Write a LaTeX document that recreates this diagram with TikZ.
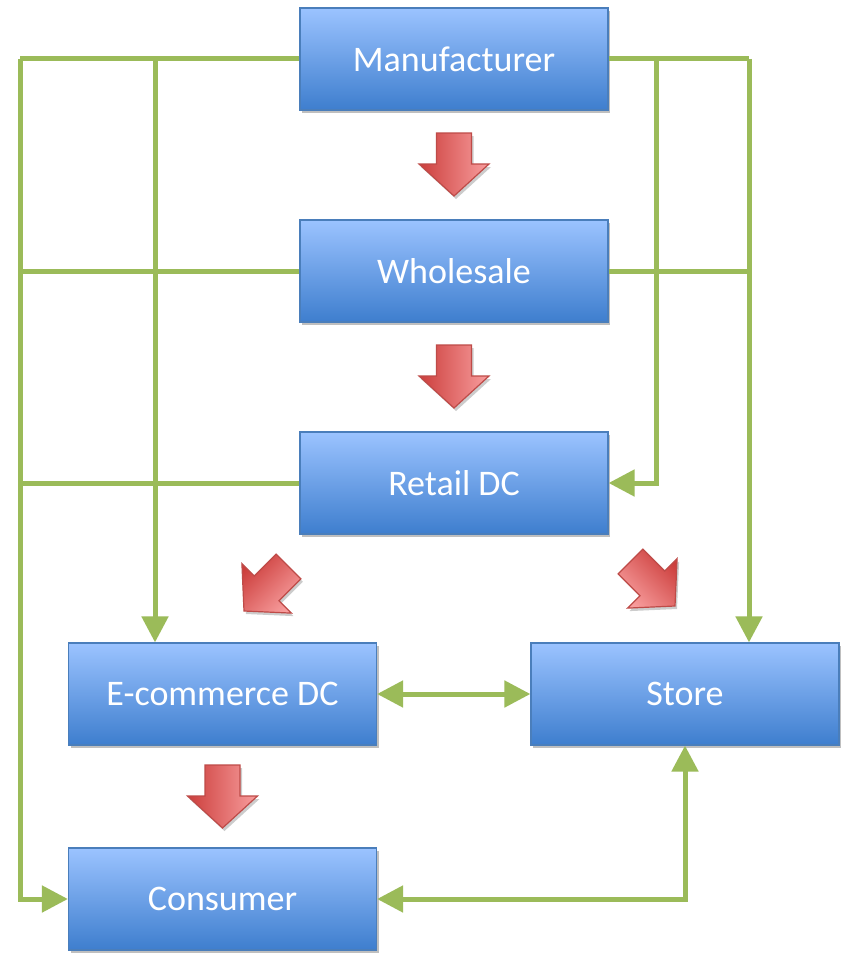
\documentclass[tikz,border=0pt]{standalone}
\usepackage{fontspec}
\setmainfont{Carlito}
\usetikzlibrary{arrows.meta,shadows}
\definecolor{boxtop}{RGB}{155,195,255}
\definecolor{boxbot}{RGB}{62,126,206}
\definecolor{boxline}{RGB}{74,126,187}
\definecolor{gline}{RGB}{155,187,89}
\definecolor{rdark}{RGB}{204,62,60}
\definecolor{rlight}{RGB}{248,158,158}
\definecolor{rline}{RGB}{190,75,72}
\begin{document}
\begin{tikzpicture}[x=1pt,y=-1pt,
  blockbox/.style={draw=boxline, line width=1.2pt, top color=boxtop, bottom color=boxbot,
    minimum width=308pt, minimum height=102pt, inner sep=0pt, text=white,
    font=\fontsize{36}{40}\selectfont,
    drop shadow={opacity=0.25, shadow xshift=2pt, shadow yshift=-3pt, fill=black}},
  conn/.style={draw=gline, line width=5pt},
  onetip/.style={-{Triangle[length=26pt,width=26pt]}},
  twotip/.style={{Triangle[length=26pt,width=26pt]}-{Triangle[length=26pt,width=26pt]}},
  redarr/.style={draw=rline, line width=1.2pt, line join=miter,
    drop shadow={opacity=0.2, shadow xshift=2pt, shadow yshift=-3pt, fill=black}},
  downarr/.pic={\path[redarr, left color=rdark, right color=rlight]
    (0,0) -- (35,-32) -- (17.5,-32) -- (17.5,-63) -- (-17.5,-63) -- (-17.5,-32) -- (-35,-32) -- cycle;}
]
\useasboundingbox (0,0) rectangle (845,958);
\fill[white] (0,0) rectangle (845,958);

% boxes
\node[blockbox] (M) at (454,59) {Manufacturer};
\node[blockbox] (W) at (454,271) {Wholesale};
\node[blockbox] (R) at (454,483) {Retail DC};
\node[blockbox] (E) at (222.5,694) {E-commerce DC};
\node[blockbox] (S) at (685,694) {Store};
\node[blockbox] (C) at (222.5,899) {Consumer};

% free ends of the green connectors
\coordinate (LL) at (20,59);
\coordinate (L2) at (155,59);
\coordinate (R2) at (656,59);
\coordinate (RR) at (749,59);

% green connectors
\draw[conn] (M.west) -- (LL);
\draw[conn,onetip] (LL) |- (C.west);
\draw[conn] (W.west) -- (W.west -| LL);
\draw[conn] (R.west) -- (R.west -| LL);
\draw[conn,onetip] (L2) -- (L2 |- E.north);
\draw[conn] (M.east) -- (RR);
\draw[conn,onetip] (RR) -- (RR |- S.north);
\draw[conn] (W.east) -- (W.east -| RR);
\draw[conn,onetip] (R2) |- (R.east);
\draw[conn,twotip] (E.east) -- (S.west);
\draw[conn,twotip] (C.east) -| (S.south);

% red arrows
\pic at (454,196) {downarr};
\pic at (454,408) {downarr};
\pic at (222.5,828) {downarr};
\path[redarr, top color=rdark, bottom color=rlight, shading angle=45]
  (244,611) -- (291.4,613.1) -- (279,600.7) -- (300.9,578.8) -- (276.2,554.1)
  -- (254.3,576) -- (241.9,563.6) -- cycle;
\path[redarr, top color=rdark, bottom color=rlight, shading angle=-45]
  (675,606) -- (677.1,558.6) -- (664.7,571) -- (642.8,549.1) -- (618.1,573.8)
  -- (640,595.7) -- (627.6,608.1) -- cycle;
\end{tikzpicture}
\end{document}
